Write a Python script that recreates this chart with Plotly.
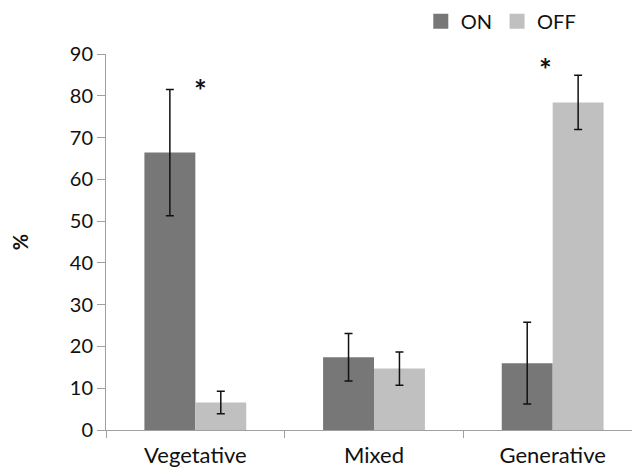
import plotly.graph_objects as go

categories = ["Vegetative", "Mixed", "Generative"]
series_names = ["ON", "OFF"]
series_colors = ["#777777", "#c0c0c0"]
on_values = [66.4, 17.4, 16.0]
on_err = [15.1, 5.7, 9.8]
off_values = [6.6, 14.7, 78.4]
off_err = [2.7, 4.0, 6.5]
y_ticks = [0, 10, 20, 30, 40, 50, 60, 70, 80, 90]
star_x = [0.03, 1.96]
star_y = [81.5, 86.5]

font_family = "Lato, Open Sans, sans-serif"

fig = go.Figure()
for name, color, vals, errs in zip(series_names, series_colors,
                                   [on_values, off_values], [on_err, off_err]):
    fig.add_trace(go.Bar(
        x=categories, y=vals, name=name, showlegend=False,
        marker=dict(color=color, line=dict(width=0)),
        error_y=dict(type="data", array=errs, visible=True, color="#111111", thickness=1.5, width=4),
    ))
# legend proxies with larger square swatches
for name, color in zip(series_names, series_colors):
    fig.add_trace(go.Scatter(
        x=[None], y=[None], mode="markers", name=name,
        marker=dict(symbol="square", size=15, color=color),
    ))

for sx, sy in zip(star_x, star_y):
    fig.add_annotation(x=sx, y=sy, xref="x", yref="y", text="<b>*</b>", showarrow=False,
                       font=dict(size=30, color="#111111", family=font_family))

fig.update_layout(
    width=640, height=473,
    margin=dict(l=98, r=6, t=46, b=51, autoexpand=False),
    paper_bgcolor="white", plot_bgcolor="white",
    barmode="group", bargap=0.43, bargroupgap=0,
    font=dict(family=font_family, size=20, color="#111111"),
    showlegend=True,
    legend=dict(orientation="h", x=0.645, y=0.972, xref="container", yref="container",
                xanchor="left", yanchor="middle",
                font=dict(size=20), itemwidth=30, traceorder="normal"),
    xaxis=dict(showline=True, linecolor="#a0a0a0", linewidth=1, ticks="outside",
               tickson="boundaries", ticklen=7, tickcolor="#a0a0a0", automargin=False,
               showgrid=False, tickfont=dict(size=22), ticklabelstandoff=6),
    yaxis=dict(range=[0, 90], tickvals=y_ticks, showline=True, linecolor="#a0a0a0",
               linewidth=1, ticks="outside", ticklen=8, tickcolor="#a0a0a0", automargin=False,
               showgrid=False, zeroline=False, tickfont=dict(size=20),
               title=dict(text="<b>%</b>", font=dict(size=20), standoff=50)),
)

fig.write_html("out.html")
